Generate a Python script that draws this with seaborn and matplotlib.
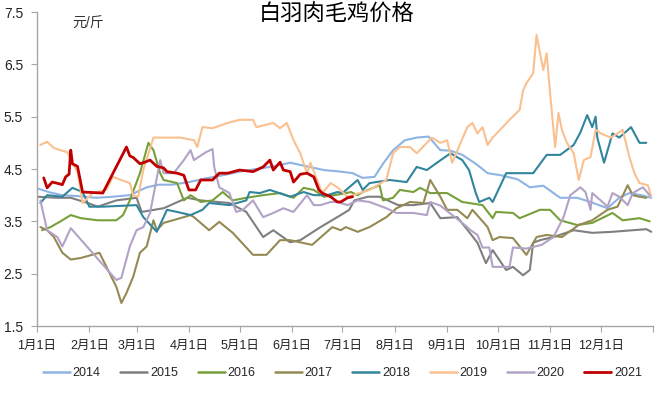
import pandas as pd
import matplotlib
matplotlib.use('Agg')
import matplotlib.pyplot as plt
import seaborn as sns

# day of year -> price (yuan / jin)
days_2014 = [0, 8, 15, 25, 35, 45, 55, 65, 72, 80, 90, 100, 110, 120, 130, 140, 150, 160, 170, 180, 187, 193, 200, 205, 211, 218, 225, 232, 239, 245, 252, 260, 267, 275, 285, 292, 300, 310, 320, 328, 338, 345, 351, 358, 364]
price_2014 = [4.13, 4.05, 4.0, 3.98, 3.95, 3.97, 4.0, 4.15, 4.2, 4.2, 4.25, 4.32, 4.38, 4.45, 4.5, 4.55, 4.62, 4.55, 4.48, 4.45, 4.42, 4.33, 4.35, 4.6, 4.86, 5.05, 5.1, 5.12, 4.86, 4.85, 4.77, 4.6, 4.42, 4.38, 4.3, 4.15, 4.18, 3.95, 3.95, 3.87, 3.75, 3.95, 4.04, 4.0, 3.95]

days_2015 = [0, 12, 20, 30, 36, 47, 59, 62, 75, 89, 97, 114, 124, 134, 140, 150, 156, 168, 180, 185, 188, 196, 203, 214, 223, 233, 239, 249, 255, 261, 266, 270, 278, 282, 288, 292, 294, 298, 306, 318, 329, 341, 361, 364]
price_2015 = [3.97, 3.95, 3.95, 3.85, 3.78, 3.9, 3.95, 3.68, 3.75, 3.95, 3.9, 3.85, 3.68, 3.2, 3.33, 3.1, 3.14, 3.39, 3.62, 3.72, 3.9, 3.97, 3.97, 3.81, 3.81, 3.85, 3.56, 3.58, 3.34, 3.09, 2.7, 2.95, 2.57, 2.63, 2.47, 2.57, 3.09, 3.14, 3.2, 3.33, 3.28, 3.3, 3.35, 3.3]

days_2016 = [3, 8, 15, 20, 26, 36, 47, 51, 55, 61, 66, 69, 73, 75, 83, 87, 91, 97, 104, 110, 116, 124, 134, 144, 152, 158, 164, 170, 180, 186, 190, 193, 203, 205, 211, 215, 223, 227, 233, 243, 252, 264, 270, 272, 282, 286, 298, 304, 310, 320, 329, 341, 347, 357, 363]
price_2016 = [3.33, 3.39, 3.52, 3.62, 3.56, 3.52, 3.52, 3.62, 3.9, 4.42, 5.0, 4.86, 4.42, 4.29, 4.23, 3.9, 4.0, 3.87, 3.9, 4.06, 3.9, 3.95, 4.0, 4.04, 3.95, 4.14, 4.1, 3.97, 4.02, 4.06, 4.0, 4.06, 4.19, 3.9, 3.95, 4.1, 4.06, 4.14, 4.04, 4.04, 3.87, 3.81, 3.56, 3.68, 3.66, 3.56, 3.72, 3.72, 3.52, 3.43, 3.47, 3.66, 3.52, 3.56, 3.5]

days_2017 = [2, 6, 10, 15, 20, 26, 37, 43, 47, 50, 53, 57, 61, 65, 69, 71, 75, 87, 91, 93, 102, 108, 116, 128, 136, 144, 150, 163, 175, 180, 183, 190, 197, 207, 213, 221, 229, 233, 239, 243, 249, 255, 258, 267, 270, 274, 282, 290, 296, 302, 311, 321, 329, 338, 344, 350, 353, 357, 361]
price_2017 = [3.39, 3.33, 3.2, 2.9, 2.77, 2.8, 2.9, 2.51, 2.25, 1.94, 2.13, 2.44, 2.9, 3.02, 3.52, 3.33, 3.47, 3.58, 3.62, 3.58, 3.33, 3.49, 3.28, 2.86, 2.86, 3.14, 3.14, 3.05, 3.39, 3.33, 3.39, 3.3, 3.39, 3.58, 3.75, 3.87, 3.85, 4.29, 3.97, 3.72, 3.72, 3.56, 3.72, 3.39, 3.14, 3.2, 3.18, 2.86, 3.2, 3.24, 3.2, 3.43, 3.52, 3.72, 3.78, 4.19, 4.0, 3.97, 3.95]

days_2018 = [2, 6, 15, 21, 27, 31, 39, 59, 63, 71, 77, 83, 91, 98, 102, 114, 124, 126, 132, 138, 150, 158, 164, 172, 178, 181, 190, 193, 197, 209, 219, 225, 231, 237, 245, 252, 256, 260, 262, 268, 270, 278, 288, 294, 302, 310, 318, 322, 326, 329, 331, 332, 336, 341, 345, 352, 357, 361]
price_2018 = [3.85, 4.0, 3.97, 4.14, 4.06, 3.78, 3.78, 3.81, 3.58, 3.3, 3.72, 3.68, 3.62, 3.72, 3.85, 3.81, 3.9, 4.06, 4.04, 4.1, 3.97, 4.06, 4.0, 4.0, 4.06, 4.04, 4.29, 4.1, 4.23, 4.29, 4.25, 4.54, 4.48, 4.62, 4.8, 4.67, 4.48, 4.04, 3.87, 3.95, 3.87, 4.42, 4.42, 4.42, 4.77, 4.77, 4.96, 5.2, 5.53, 5.3, 5.5, 5.1, 4.62, 5.18, 5.1, 5.3, 5.0, 5.0]

days_2019 = [2, 6, 10, 18, 21, 24, 27, 33, 41, 45, 49, 55, 57, 60, 63, 69, 77, 85, 93, 95, 98, 104, 113, 120, 128, 130, 140, 144, 148, 152, 156, 160, 162, 166, 169, 174, 178, 184, 197, 207, 211, 215, 221, 225, 234, 239, 243, 246, 251, 255, 258, 261, 264, 267, 270, 280, 286, 288, 290, 294, 296, 300, 302, 304, 307, 309, 311, 314, 318, 321, 324, 328, 331, 334, 340, 344, 347, 351, 354, 357, 362, 364]
price_2019 = [4.96, 5.02, 4.9, 4.82, 4.6, 4.45, 3.85, 4.04, 4.1, 4.35, 4.3, 4.23, 4.0, 3.97, 4.48, 5.1, 5.1, 5.1, 5.05, 4.92, 5.3, 5.28, 5.38, 5.44, 5.44, 5.3, 5.38, 5.28, 5.38, 5.05, 4.8, 4.42, 4.62, 4.29, 4.04, 4.23, 4.15, 3.97, 4.1, 4.29, 4.8, 4.92, 4.92, 4.8, 5.1, 5.0, 5.05, 4.62, 5.0, 5.3, 5.38, 5.18, 5.3, 4.96, 5.1, 5.44, 5.63, 6.0, 6.14, 6.33, 7.06, 6.39, 6.71, 5.95, 4.92, 5.57, 5.25, 5.0, 4.8, 4.29, 4.67, 4.73, 5.25, 5.18, 5.1, 5.18, 5.25, 4.73, 4.42, 4.23, 4.19, 3.97]

days_2020 = [2, 6, 12, 15, 20, 47, 50, 55, 59, 63, 67, 73, 75, 81, 87, 91, 93, 100, 104, 105, 108, 114, 118, 122, 128, 134, 140, 146, 152, 160, 164, 168, 174, 178, 184, 190, 197, 207, 213, 223, 231, 233, 239, 246, 252, 257, 261, 264, 268, 270, 280, 282, 290, 299, 306, 312, 316, 322, 325, 328, 329, 334, 338, 341, 345, 350, 353, 359, 363]
price_2020 = [3.9, 3.33, 3.2, 3.02, 3.37, 2.38, 2.42, 3.02, 3.33, 3.39, 3.66, 4.67, 4.42, 4.42, 4.67, 4.86, 4.67, 4.82, 4.88, 4.54, 4.15, 4.04, 3.68, 3.72, 3.9, 3.58, 3.66, 3.75, 3.68, 4.0, 3.81, 3.81, 3.87, 3.87, 3.81, 3.9, 3.87, 3.75, 3.66, 3.66, 3.62, 3.87, 3.8, 3.62, 3.47, 3.33, 3.24, 3.0, 3.0, 2.63, 2.63, 3.0, 2.98, 3.05, 3.2, 3.58, 4.0, 4.15, 4.06, 3.72, 4.04, 3.9, 3.78, 4.04, 3.97, 3.81, 4.04, 4.15, 4.0]

days_2021 = [4, 6, 9, 13, 15, 17, 19, 20, 21, 24, 27, 39, 53, 55, 57, 61, 63, 67, 71, 75, 77, 83, 87, 90, 94, 97, 104, 108, 113, 120, 128, 134, 138, 140, 144, 146, 150, 152, 156, 160, 164, 167, 169, 174, 178, 180, 184, 187]
price_2021 = [4.33, 4.14, 4.25, 4.22, 4.2, 4.35, 4.4, 4.86, 4.6, 4.55, 4.06, 4.04, 4.92, 4.75, 4.72, 4.6, 4.62, 4.67, 4.55, 4.52, 4.45, 4.42, 4.38, 4.1, 4.1, 4.29, 4.29, 4.42, 4.42, 4.48, 4.45, 4.54, 4.67, 4.48, 4.63, 4.48, 4.45, 4.25, 4.4, 4.42, 4.35, 4.1, 4.04, 3.97, 3.87, 3.87, 3.95, 3.97]

years = ['2014', '2015', '2016', '2017', '2018', '2019', '2020', '2021']
colors = ['#8DB4E2', '#7F7F7F', '#77A03A', '#948A54', '#31859C', '#FAC090', '#B3A2C7', '#C00000']

month_starts = [0, 31, 59, 90, 120, 151, 181, 212, 243, 273, 304, 334, 365]
month_labels = ['1月1日', '2月1日', '3月1日', '4月1日', '5月1日', '6月1日', '7月1日',
                '8月1日', '9月1日', '10月1日', '11月1日', '12月1日', '']
y_ticks = [1.5, 2.5, 3.5, 4.5, 5.5, 6.5, 7.5]


def main():
    series = {
        '2014': (days_2014, price_2014), '2015': (days_2015, price_2015),
        '2016': (days_2016, price_2016), '2017': (days_2017, price_2017),
        '2018': (days_2018, price_2018), '2019': (days_2019, price_2019),
        '2020': (days_2020, price_2020), '2021': (days_2021, price_2021),
    }
    frames = []
    for yr in years:
        d, p = series[yr]
        frames.append(pd.DataFrame({'day': d, 'price': p, 'year': yr}))
    df = pd.concat(frames, ignore_index=True)

    sns.set_theme(style="white")
    plt.rcParams['font.family'] = ['Liberation Sans', 'Noto Sans CJK SC']

    fig = plt.figure(figsize=(6.65, 3.94), dpi=100)
    ax = fig.add_axes([37 / 665, 68 / 394, 616 / 665, 314 / 394])

    sns.lineplot(data=df, x='day', y='price', hue='year', hue_order=years,
                 palette=dict(zip(years, colors)), estimator=None,
                 linewidth=1.5, ax=ax, legend=False)
    # the current year is drawn heavier
    ax.lines[-1].set_linewidth(2.0)

    ax.set_xlim(0, 365)
    ax.set_ylim(1.5, 7.5)
    ax.set_xticks(month_starts)
    ax.set_xticklabels(month_labels, fontsize=9, color='#222222')
    ax.set_yticks(y_ticks)
    ax.set_yticklabels([f'{v:.1f}' for v in y_ticks], fontsize=10, color='#222222')
    ax.set_xlabel('')
    ax.set_ylabel('')
    ax.tick_params(axis='both', which='both', direction='out', length=4,
                   width=0.8, color='#A6A6A6', left=True, bottom=True)
    ax.tick_params(axis='x', pad=6)
    ax.tick_params(axis='y', pad=6)

    sns.despine(ax=ax)
    for s in ['left', 'bottom']:
        ax.spines[s].set_color('#A6A6A6')
        ax.spines[s].set_linewidth(1.0)

    fig.text(337 / 665, 1 - 15 / 394, '白羽肉毛鸡价格', ha='center', va='center',
             fontsize=16, color='black')
    fig.text(88 / 665, 1 - 24 / 394, '元/斤', ha='center', va='center',
             fontsize=10, color='#333333')

    handles = [plt.Line2D([], [], color=c, linewidth=2.0 if y == '2021' else 1.8)
               for y, c in zip(years, colors)]
    fig.legend(handles, years, loc='center', bbox_to_anchor=(0.515, 21 / 394),
               ncol=8, frameon=False, fontsize=9, handlelength=2.15,
               handletextpad=0.2, columnspacing=1.6)

    fig.savefig('out.png', dpi=100)


if __name__ == "__main__":
    main()
